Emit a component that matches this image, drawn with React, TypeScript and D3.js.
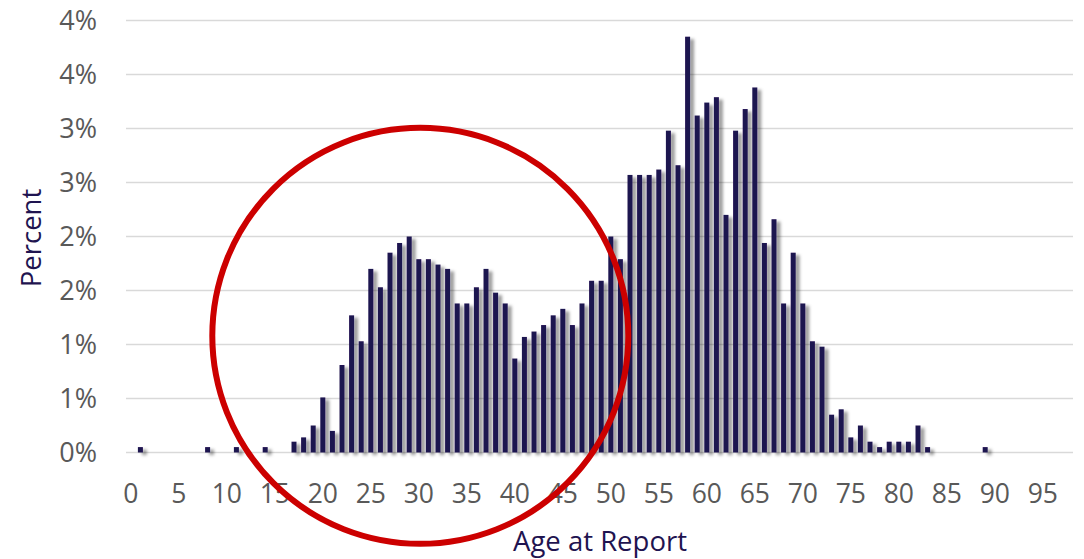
import React from 'react';
import * as d3 from 'd3';

// percent of reports by age (0..98)
const ages = d3.range(0, 99);
const percents = [
  0, 0.05, 0, 0, 0, 0, 0, 0, 0.05, 0,
  0, 0.05, 0, 0, 0.05, 0, 0, 0.1, 0.14, 0.25,
  0.51, 0.2, 0.81, 1.27, 1.03, 1.7, 1.53, 1.85, 1.94, 2.0,
  1.79, 1.79, 1.74, 1.7, 1.38, 1.38, 1.53, 1.7, 1.48, 1.38,
  0.87, 1.07, 1.12, 1.18, 1.27, 1.33, 1.18, 1.38, 1.59, 1.59,
  2.0, 1.79, 2.57, 2.57, 2.57, 2.62, 2.98, 2.66, 3.85, 3.12,
  3.24, 3.29, 2.2, 2.98, 3.18, 3.38, 1.94, 2.16, 1.38, 1.85,
  1.38, 1.03, 0.98, 0.35, 0.4, 0.14, 0.25, 0.1, 0.05, 0.1,
  0.1, 0.1, 0.25, 0.05, 0, 0, 0, 0, 0, 0.05,
  0, 0, 0, 0, 0, 0, 0, 0, 0,
];
const xTicks = d3.range(0, 100, 5);
const yTicks = [0, 0.5, 1, 1.5, 2, 2.5, 3, 3.5, 4];
const yTickLabels = ['0%', '1%', '1%', '2%', '2%', '3%', '3%', '4%', '4%'];

const W = 1084;
const H = 559;
const BAR = '#1f1250';
const NAVY = '#1f1450';
const FONT = "'Open Sans', Calibri, sans-serif";

export default function App() {
  const left = 126;
  const right = 1073;
  const x = d3.scaleBand<number>().domain(ages).range([left, left + 99 * 9.6]).paddingInner(0.48).paddingOuter(0.24);
  const y = d3.scaleLinear().domain([0, 4]).range([452.5, 20.5]);
  const cx = (a: number) => (x(a) ?? 0) + x.bandwidth() / 2;

  return (
    <svg width={W} height={H} style={{ position: 'absolute', left: 0, top: 0, background: '#fff' }}>
      <defs>
        <filter id="shadow" x="-50%" y="-10%" width="250%" height="130%">
          <feDropShadow dx={4} dy={2.5} stdDeviation={1.5} floodColor="#000" floodOpacity={0.38} />
        </filter>
      </defs>
      {yTicks.map((t) => (
        <line key={t} x1={left} x2={right} y1={y(t)} y2={y(t)} stroke="#d9d9d9" strokeWidth={1.5} />
      ))}
      <g filter="url(#shadow)">
        {ages.map((a, i) =>
          percents[i] > 0 ? (
            <rect key={a} x={x(a)} y={y(percents[i])} width={x.bandwidth()} height={y(0) - y(percents[i])} fill={BAR} />
          ) : null
        )}
      </g>
      {yTicks.map((t, i) => (
        <text key={t} x={97} y={y(t)} dy="0.35em" textAnchor="end" fontFamily={FONT} fontSize={27} fill="#595959">
          {yTickLabels[i]}
        </text>
      ))}
      {xTicks.map((t) => (
        <text key={t} x={cx(t)} y={493} dy="0.36em" textAnchor="middle" fontFamily={FONT} fontSize={26.5} fill="#595959">
          {t}
        </text>
      ))}
      <text transform="translate(41,238) rotate(-90)" textAnchor="middle" fontFamily={FONT} fontSize={27.5} fill={NAVY}>
        Percent
      </text>
      <text x={600} y={551} textAnchor="middle" fontFamily={FONT} fontSize={27.5} fill={NAVY}>
        Age at Report
      </text>
      <circle cx={cx(30) + 1.5} cy={y(1.08)} r={208} fill="none" stroke="#cc0000" strokeWidth={6} />
    </svg>
  );
}
